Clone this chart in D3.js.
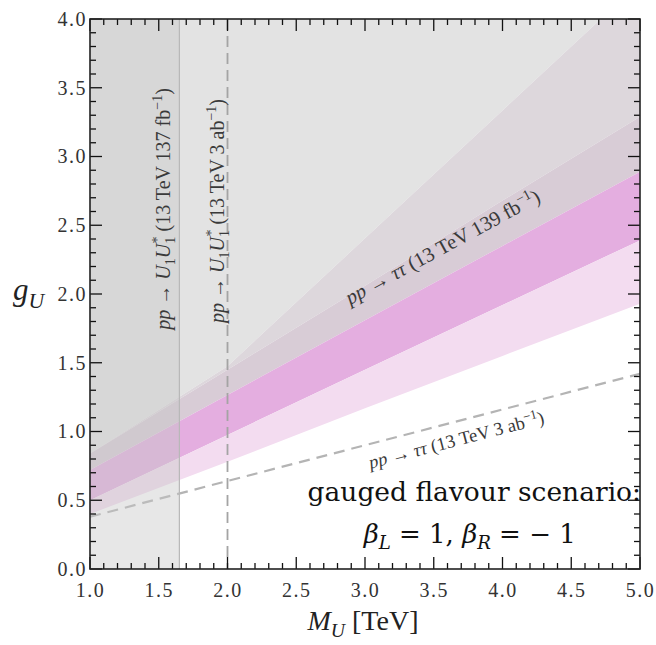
<!DOCTYPE html>
<html>
<head>
<meta charset="utf-8">
<script src="https://cdn.jsdelivr.net/npm/d3@7"></script>
<style>
  html, body { margin: 0; padding: 0; background: #fff; }
  svg { display: block; font-family: "Liberation Serif", "DejaVu Serif", serif; }
</style>
</head>
<body>
<script>
// Leptoquark mass grid (TeV) on which the band boundaries are sampled
const massGrid = [1.0, 2.0, 3.0, 4.0, 5.0];

// Coupling g_U along each boundary
const lightPinkLower = [0.40, 0.78, 1.17, 1.55, 1.93];
const magentaLower   = [0.50, 0.975, 1.45, 1.92, 2.39];
const magentaUpper   = [0.72, 1.265, 1.81, 2.35, 2.89];   // pp -> tautau, 139 fb^-1
const greyBandUpper  = [0.84, 1.45, 2.06, 2.68, 3.29];
const steepUpper     = [0.55, 1.475, 2.405, 3.335, 4.265];
const tautauHLLHC    = [0.38, 0.64, 0.90, 1.16, 1.42];     // pp -> tautau, 3 ab^-1

// Pair-production mass limits (TeV)
const pairLimitCurrent = 1.65;   // 137 fb^-1
const pairLimitHL      = 2.0;    // 3 ab^-1

// Axis ticks
const xMajorTicks = [1.0, 1.5, 2.0, 2.5, 3.0, 3.5, 4.0, 4.5, 5.0];
const yMajorTicks = [0.0, 0.5, 1.0, 1.5, 2.0, 2.5, 3.0, 3.5, 4.0];
const xDomain = [1.0, 5.0];
const yDomain = [0.0, 4.0];

const W = 656, H = 645;
const margin = { left: 90, top: 19, right: 16, bottom: 76 };
const iw = W - margin.left - margin.right;   // 550
const ih = H - margin.top - margin.bottom;   // 550

const svg = d3.select("body").append("svg").attr("width", W).attr("height", H);
const defs = svg.append("defs");
defs.append("clipPath").attr("id", "plotClip")
  .append("rect").attr("width", iw).attr("height", ih);

const g = svg.append("g").attr("transform", `translate(${margin.left},${margin.top})`);
const x = d3.scaleLinear().domain(xDomain).range([0, iw]);
const y = d3.scaleLinear().domain(yDomain).range([ih, 0]);

const plot = g.append("g").attr("clip-path", "url(#plotClip)");

const band = (lo, hi) => d3.area()
  .x((d, i) => x(massGrid[i]))
  .y0((d, i) => y(lo[i]))
  .y1((d, i) => y(hi[i]));

const topCap = massGrid.map(() => yDomain[1] + 1);
const steepOrGrey = steepUpper.map((v, i) => Math.max(v, greyBandUpper[i]));

// excluded / preferred regions, drawn from the top down
plot.append("path").datum(massGrid).attr("d", band(steepOrGrey, topCap)).attr("fill", "#e3e3e3");
plot.append("path").datum(massGrid).attr("d", band(greyBandUpper, steepOrGrey)).attr("fill", "#ddd7dc");
plot.append("path").datum(massGrid).attr("d", band(magentaUpper, greyBandUpper)).attr("fill", "#d8ccd6");
plot.append("path").datum(massGrid).attr("d", band(magentaLower, magentaUpper)).attr("fill", "#e4aee0");
plot.append("path").datum(massGrid).attr("d", band(lightPinkLower, magentaLower)).attr("fill", "#f3dcf0");

// HL-LHC tautau projection
plot.append("path").datum(tautauHLLHC)
  .attr("d", d3.line().x((d, i) => x(massGrid[i])).y(d => y(d)))
  .attr("fill", "none").attr("stroke", "#b4b4b4").attr("stroke-width", 2.2)
  .attr("stroke-dasharray", "11,7");

// current pair-production exclusion
plot.append("rect")
  .attr("x", x(xDomain[0])).attr("y", 0)
  .attr("width", x(pairLimitCurrent) - x(xDomain[0])).attr("height", ih)
  .attr("fill", "#c6c6c6").attr("fill-opacity", 0.42);
plot.append("line")
  .attr("x1", x(pairLimitCurrent)).attr("x2", x(pairLimitCurrent))
  .attr("y1", 0).attr("y2", ih)
  .attr("stroke", "#b8b8b8").attr("stroke-width", 1.2);

// HL-LHC pair-production reach
plot.append("line")
  .attr("x1", x(pairLimitHL)).attr("x2", x(pairLimitHL))
  .attr("y1", 0).attr("y2", ih)
  .attr("stroke", "#a4a4a4").attr("stroke-width", 1.8)
  .attr("stroke-dasharray", "11,6");

// rich text helper: segments with italic / sub / sup, optional back-step for stacking
function richText(sel, segs, size) {
  let shift = 0;
  segs.forEach(s => {
    const t = sel.append("tspan").text(s.t);
    let target = 0;
    if (s.sub) target = size * 0.25;
    if (s.sup) target = -size * 0.38;
    t.attr("dy", target - shift);
    shift = target;
    if (s.back) t.attr("dx", -s.back * size);
    if (s.it) t.style("font-style", "italic");
    if (s.sub || s.sup) t.style("font-size", (size * 0.7) + "px");
  });
  return sel;
}

const pairSegs = (lumi, unit) => [
  { t: "pp", it: true }, { t: " → " },
  { t: "U", it: true }, { t: "1", sub: true },
  { t: "U", it: true }, { t: "1", sub: true }, { t: "*", sup: true, back: 0.33 },
  { t: ` (13 TeV ${lumi} ${unit}` }, { t: "−1", sup: true }, { t: ")" }
];
const tauSegs = (lumi, unit) => [
  { t: "pp", it: true }, { t: " → " }, { t: "ττ", it: true },
  { t: ` (13 TeV ${lumi} ${unit}` }, { t: "−1", sup: true }, { t: ")" }
];

const labelColor = "#3a3a3a";
const vSize = 20;
const label = (sz) => g.append("text").style("font-size", sz + "px").attr("fill", labelColor);

richText(label(vSize)
  .attr("transform", `translate(${x(1.582)},${y(1.74)}) rotate(-90)`), pairSegs("137", "fb"), vSize);
richText(label(vSize)
  .attr("transform", `translate(${x(1.972)},${y(1.79)}) rotate(-90)`), pairSegs("3", "ab"), vSize);

const angC = Math.atan2(y(magentaUpper[4]) - y(magentaUpper[0]), x(5) - x(1)) * 180 / Math.PI;
richText(label(20.5)
  .attr("transform", `translate(${x(2.89)},${y(1.92)}) rotate(${angC})`), tauSegs("139", "fb"), 20.5);

const angD = Math.atan2(y(tautauHLLHC[4]) - y(tautauHLLHC[0]), x(5) - x(1)) * 180 / Math.PI;
richText(label(18.5)
  .attr("transform", `translate(${x(3.04)},${y(0.73)}) rotate(${angD})`), tauSegs("3", "ab"), 18.5);

// scenario caption
const capFont = "'DejaVu Serif', serif";
g.append("text").attr("x", iw + 1).attr("y", y(0.495)).attr("text-anchor", "end")
  .style("font-family", capFont).style("font-size", "26.5px").attr("fill", "#111")
  .text("gauged flavour scenario:");
const cap2 = g.append("text").attr("x", x(2.99)).attr("y", y(0.19))
  .style("font-family", capFont).style("font-size", "26px").attr("fill", "#111");
richText(cap2, [
  { t: "β", it: true }, { t: "L", it: true, sub: true }, { t: " = 1, " },
  { t: "β", it: true }, { t: "R", it: true, sub: true }, { t: " = − 1" }
], 26);

// frame and ticks on all four sides, pointing inward
const xMinor = d3.range(10, 51).map(v => v / 10);
const yMinor = d3.range(0, 41).map(v => v / 10);
const axes = g.append("g").attr("stroke", "#111");
const isMajor = v => Math.abs(v * 2 - Math.round(v * 2)) < 1e-6;
xMinor.forEach(v => {
  const L = isMajor(v) ? 12 : 6;
  axes.append("line").attr("x1", x(v)).attr("x2", x(v)).attr("y1", ih).attr("y2", ih - L).attr("stroke-width", 1.3);
  axes.append("line").attr("x1", x(v)).attr("x2", x(v)).attr("y1", 0).attr("y2", L).attr("stroke-width", 1.3);
});
yMinor.forEach(v => {
  const L = isMajor(v) ? 12 : 6;
  axes.append("line").attr("y1", y(v)).attr("y2", y(v)).attr("x1", 0).attr("x2", L).attr("stroke-width", 1.3);
  axes.append("line").attr("y1", y(v)).attr("y2", y(v)).attr("x1", iw).attr("x2", iw - L).attr("stroke-width", 1.3);
});
g.append("rect").attr("width", iw).attr("height", ih)
  .attr("fill", "none").attr("stroke", "#222").attr("stroke-width", 1.6);

// tick labels through d3 axes
const xAxis = g.append("g").attr("transform", `translate(0,${ih})`)
  .call(d3.axisBottom(x).tickValues(xMajorTicks).tickFormat(d3.format(".1f")).tickSize(0).tickPadding(14));
const yAxis = g.append("g")
  .call(d3.axisLeft(y).tickValues(yMajorTicks).tickFormat(d3.format(".1f")).tickSize(0).tickPadding(3));
[xAxis, yAxis].forEach(a => {
  a.select(".domain").remove();
  a.attr("font-family", null).attr("font-size", null);
  a.selectAll("text").style("font-family", "'Liberation Serif', serif").style("font-size", "20px")
    .attr("letter-spacing", 1.5).attr("fill", "#333");
});

// axis titles
const xt = svg.append("text").attr("x", margin.left + iw / 2 - 2).attr("y", 630)
  .attr("text-anchor", "middle").style("font-size", "28px").attr("fill", "#222");
richText(xt, [{ t: "M", it: true }, { t: "U", it: true, sub: true }, { t: " [TeV]" }], 28);
const yt = svg.append("text").attr("x", 13).attr("y", 300).style("font-size", "31px").attr("fill", "#222");
richText(yt, [{ t: "g", it: true }, { t: "U", it: true, sub: true }], 31);
</script>
</body>
</html>
